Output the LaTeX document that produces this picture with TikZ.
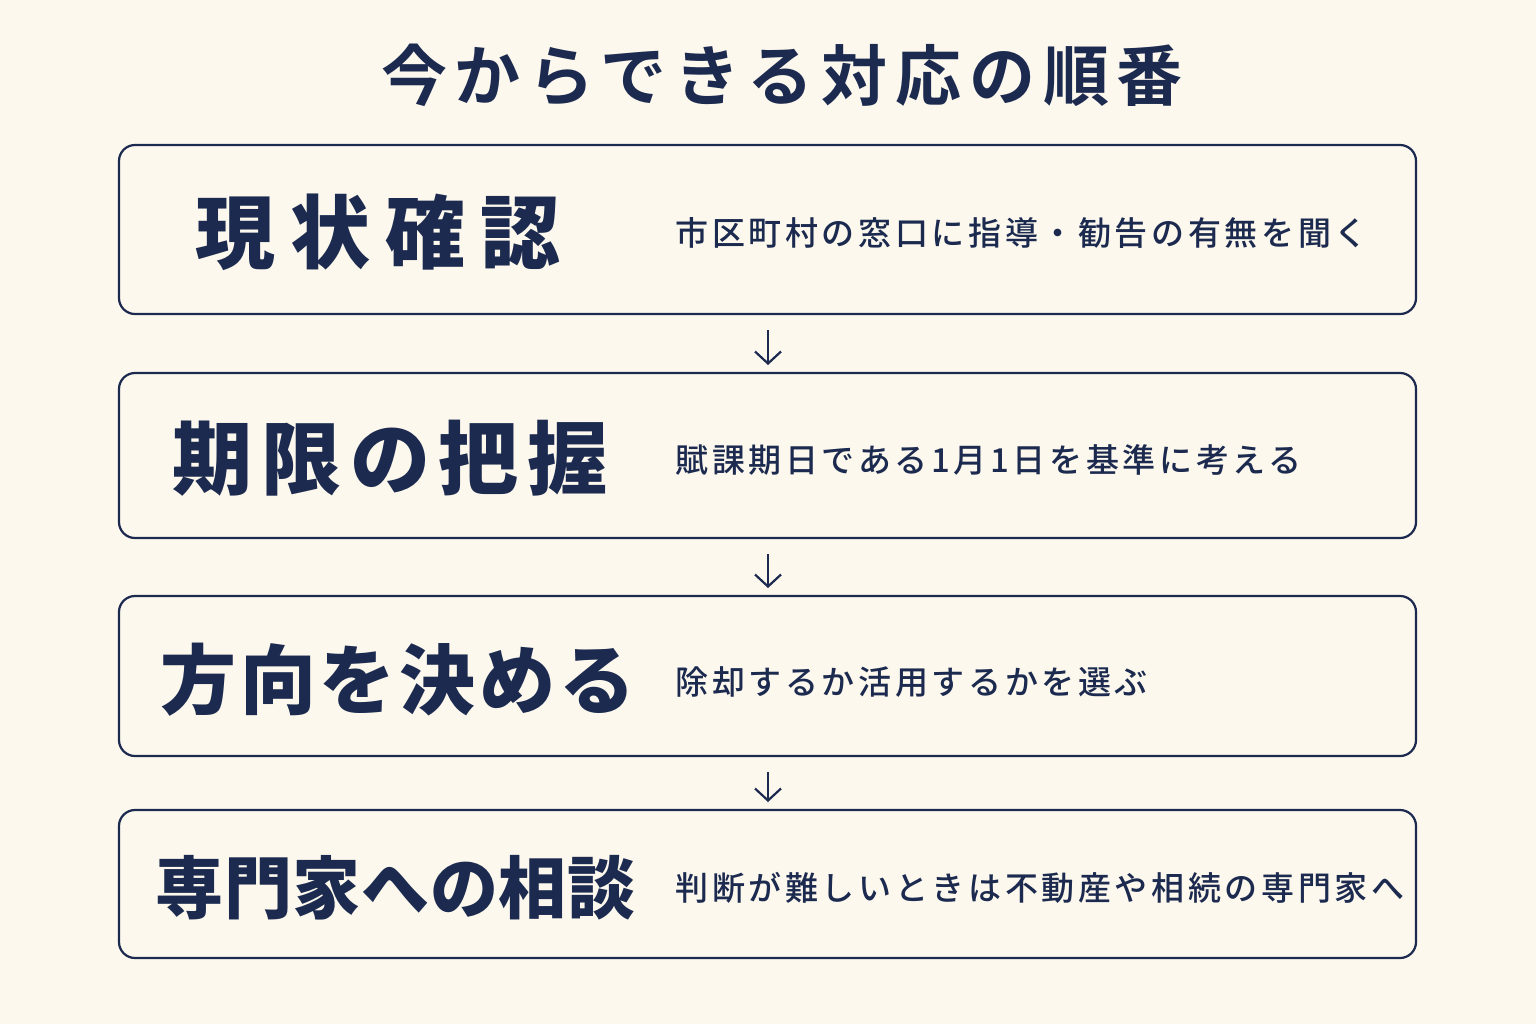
\documentclass[tikz,border=0pt]{standalone}
\usepackage{fontspec}
\usetikzlibrary{arrows.meta}
\newfontfamily\jpb{Noto Sans CJK JP}[UprightFont=* Bold,LetterSpace=12]
\newfontfamily\jpm{Noto Sans CJK JP}[UprightFont=* Medium,LetterSpace=11]
\newfontfamily\jpba{Noto Sans CJK JP}[UprightFont=* Black,LetterSpace=19]
\newfontfamily\jpbb{Noto Sans CJK JP}[UprightFont=* Black,LetterSpace=11]
\newfontfamily\jpbc{Noto Sans CJK JP}[UprightFont=* Black,LetterSpace=5]
\newfontfamily\jpbd{Noto Sans CJK JP}[UprightFont=* Black,LetterSpace=1]
\definecolor{bg}{HTML}{FCF8EE}
\definecolor{navy}{HTML}{1B2A4E}
\begin{document}
\begin{tikzpicture}[x=0.5pt,y=-0.5pt,
  box/.style={draw=navy,line width=1.1pt,rounded corners=8pt,fill=bg},
  big/.style={anchor=west,text=navy,inner sep=0},
  desc/.style={anchor=west,text=navy,inner sep=0,font=\jpm\fontsize{16.5}{20}\selectfont},
  arr/.style={-{Straight Barb[length=6pt,width=13pt]},draw=navy,line width=1.1pt,shorten <=8pt, shorten >=4pt}]
\fill[bg] (0,0) rectangle (1536,1024);
\useasboundingbox (0,0) rectangle (1536,1024);
\node[text=navy,font=\jpb\fontsize{33}{38}\selectfont] (t) at (782,75) {今からできる対応の順番};
\draw[box] (119,145) rectangle (1416,314);
\draw[box] (119,373) rectangle (1416,538);
\draw[box] (119,596) rectangle (1416,756);
\draw[box] (119,810) rectangle (1416,958);
\coordinate (b1s) at (768,314); \coordinate (b2n) at (768,373);
\coordinate (b2s) at (768,538); \coordinate (b3n) at (768,596);
\coordinate (b3s) at (768,756); \coordinate (b4n) at (768,810);
\node[big,font=\jpba\fontsize{40}{44}\selectfont] (l1) at (195,232) {現状確認};
\node[big,font=\jpbb\fontsize{40}{44}\selectfont] (l2) at (172,458) {期限の把握};
\node[big,font=\jpbc\fontsize{38}{42}\selectfont] (l3) at (160,680) {方向を決める};
\node[big,font=\jpbd\fontsize{34}{38}\selectfont] (l4) at (155,888) {専門家への相談};
\node[desc] (d1) at (675,233) {市区町村の窓口に指導・勧告の有無を聞く};
\node[desc] (d2) at (675,460) {賦課期日である1月1日を基準に考える};
\node[desc] (d3) at (675,682) {除却するか活用するかを選ぶ};
\node[desc] (d4) at (675,888) {判断が難しいときは不動産や相続の専門家へ};
\draw[arr] (b1s) -- (b2n);
\draw[arr] (b2s) -- (b3n);
\draw[arr] (b3s) -- (b4n);
\end{tikzpicture}
\end{document}
